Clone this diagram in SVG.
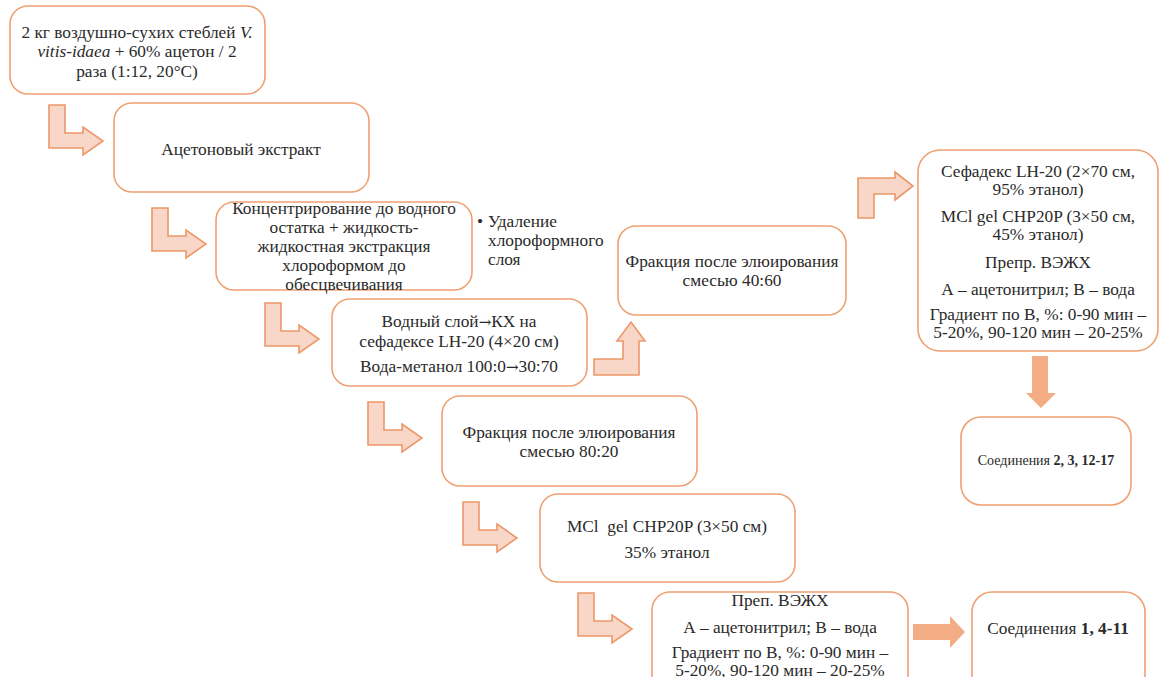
<svg xmlns="http://www.w3.org/2000/svg" width="1161" height="677" viewBox="0 0 1161 677">
<style>
.box{fill:#ffffff;stroke:#EFA071;stroke-width:1.6}
.t{font-family:"Liberation Serif","Times New Roman",serif;font-size:17.3px;fill:#2a2a2a;text-anchor:middle}
.tl{font-family:"Liberation Serif","Times New Roman",serif;font-size:17.3px;fill:#2a2a2a}
.s{font-size:14px}
.b{font-weight:bold}
.i{font-style:italic}
.ar{font-family:"DejaVu Serif",serif;font-size:15px}
.bent{fill:#F8D6C8;stroke:#EC9868;stroke-width:1.6;stroke-linejoin:miter}
.solid{fill:#F4AC84;stroke:none}
</style>
<rect width="1161" height="677" fill="#ffffff"/>
<g id="connectors">
<path class="bent" d="M49,105 h16 v28 h18 v-6 l20,14 l-20,14 v-7 h-34 z"/>
<path class="bent" d="M152,208 h16 v28 h18 v-6 l20,14 l-20,14 v-7 h-34 z"/>
<path class="bent" d="M265,303 h16 v28 h18 v-6 l20,14 l-20,14 v-7 h-34 z"/>
<path class="bent" d="M368,402 h16 v28 h18 v-6 l20,14 l-20,14 v-7 h-34 z"/>
<path class="bent" d="M463,502 h16 v28 h18 v-6 l20,14 l-20,14 v-7 h-34 z"/>
<path class="bent" d="M578,593 h16 v28 h18 v-6 l20,14 l-20,14 v-7 h-34 z"/>
<path class="bent" d="M594,359 h29 v-18 h-6 l14,-19 l14,19 h-6 v34 h-45 z"/>
<path class="bent" d="M858,218 v-40 h37 v-6 l18,14 l-18,14 v-6 h-21 v24 z"/>
<path class="solid" d="M1032,356 h16 v37 h8 l-15,15 l-15,-15 h6 z"/>
<path class="solid" d="M913,624 h37 v-8 l15,16 l-15,16 v-8 h-37 z"/>
</g>
<g id="n1">
<rect class="box" x="10" y="6" width="255" height="88" rx="18"/>
<text class="t" x="137" y="38">2 кг воздушно-сухих стеблей <tspan class="i">V.</tspan></text>
<text class="t" x="137" y="57"><tspan class="i">vitis-idaea</tspan> + 60% ацетон / 2</text>
<text class="t" x="137" y="77">раза (1:12, 20°C)</text>
</g>
<g id="n2">
<rect class="box" x="114" y="103" width="255" height="89" rx="18"/>
<text class="t" x="241" y="155">Ацетоновый экстракт</text>
</g>
<g id="n3">
<rect class="box" x="216" y="202" width="256" height="88" rx="18"/>
<text class="t" x="344" y="214">Концентрирование до водного</text>
<text class="t" x="344" y="233">остатка + жидкость-</text>
<text class="t" x="344" y="252">жидкостная экстракция</text>
<text class="t" x="344" y="271">хлороформом до</text>
<text class="t" x="344" y="290">обесцвечивания</text>
</g>
<g id="n3note">
<text class="tl" x="477" y="227">•</text>
<text class="tl" x="488" y="227">Удаление</text>
<text class="tl" x="488" y="246">хлороформного</text>
<text class="tl" x="488" y="265">слоя</text>
</g>
<g id="n4">
<rect class="box" x="332" y="299" width="255" height="87" rx="18"/>
<text class="t" x="459" y="327">Водный слой<tspan class="ar">→</tspan>КХ на</text>
<text class="t" x="459" y="347">сефадексе LH-20 (4×20 см)</text>
<text class="t" x="459" y="372">Вода-метанол 100:0<tspan class="ar">→</tspan>30:70</text>
</g>
<g id="n5">
<rect class="box" x="618" y="226" width="228" height="89" rx="18"/>
<text class="t" x="732" y="267">Фракция после элюирования</text>
<text class="t" x="732" y="286">смесью 40:60</text>
</g>
<g id="n6">
<rect class="box" x="918" y="150" width="240" height="201" rx="22"/>
<text class="t" x="1038" y="177">Сефадекс LH-20 (2×70 см,</text>
<text class="t" x="1038" y="195">95% этанол)</text>
<text class="t" x="1038" y="222">MCl gel CHP20P (3×50 см,</text>
<text class="t" x="1038" y="240">45% этанол)</text>
<text class="t" x="1038" y="268">Препр. ВЭЖХ</text>
<text class="t" x="1038" y="295">А – ацетонитрил; В – вода</text>
<text class="t" x="1038" y="320">Градиент по В, %: 0-90 мин –</text>
<text class="t" x="1038" y="338">5-20%, 90-120 мин – 20-25%</text>
</g>
<g id="n7">
<rect class="box" x="961" y="417" width="170" height="88" rx="20"/>
<text class="t s" x="1046" y="465">Соединения <tspan class="b">2, 3, 12-17</tspan></text>
</g>
<g id="n8">
<rect class="box" x="442" y="396" width="255" height="90" rx="18"/>
<text class="t" x="569" y="438">Фракция после элюирования</text>
<text class="t" x="569" y="457">смесью 80:20</text>
</g>
<g id="n9">
<rect class="box" x="540" y="494" width="255" height="88" rx="18"/>
<text class="t" x="667" y="532" xml:space="preserve">MCl  gel CHP20P (3×50 см)</text>
<text class="t" x="667" y="558">35% этанол</text>
</g>
<g id="n10">
<rect class="box" x="652" y="592" width="256" height="110" rx="18"/>
<text class="t" x="780" y="606">Преп. ВЭЖХ</text>
<text class="t" x="780" y="633">А – ацетонитрил; В – вода</text>
<text class="t" x="780" y="658">Градиент по В, %: 0-90 мин –</text>
<text class="t" x="780" y="676">5-20%, 90-120 мин – 20-25%</text>
</g>
<g id="n11">
<rect class="box" x="972" y="592" width="173" height="110" rx="20"/>
<text class="t" x="1058" y="634">Соединения <tspan class="b">1, 4-11</tspan></text>
</g>
</svg>
